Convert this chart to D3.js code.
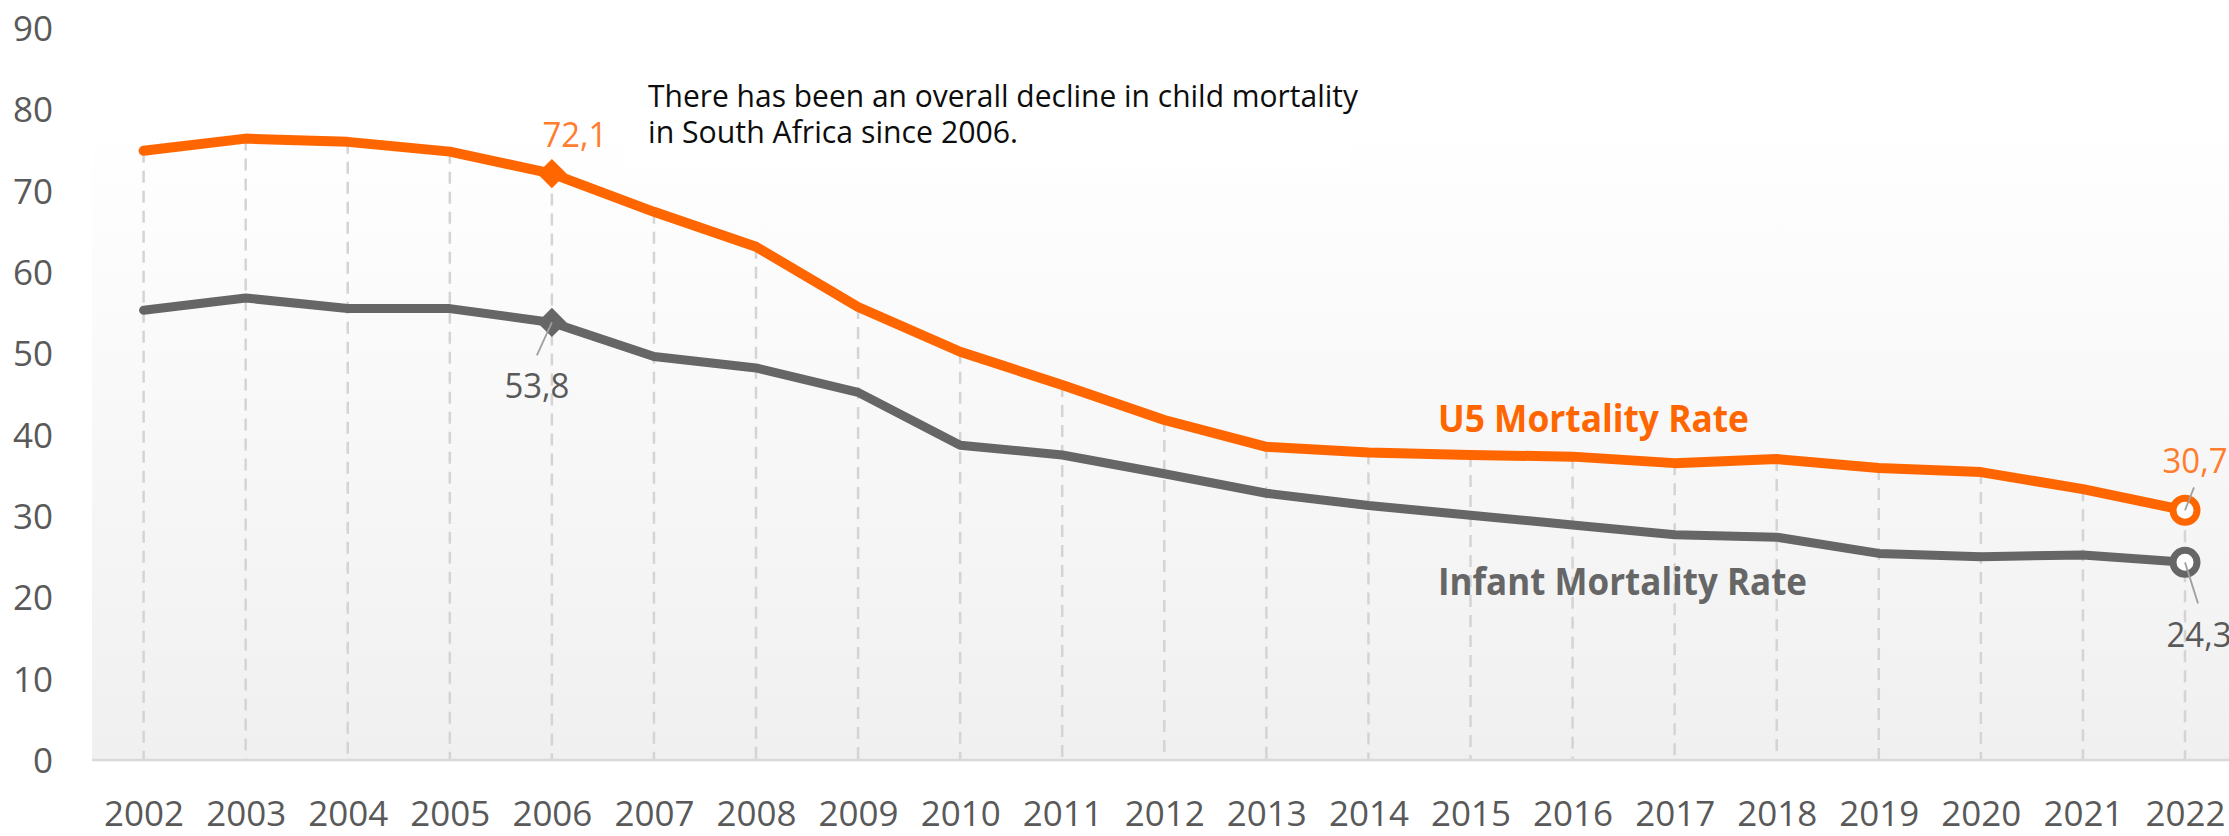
<!DOCTYPE html>
<html>
<head>
<meta charset="utf-8">
<script src="https://cdn.jsdelivr.net/npm/d3@7"></script>
<style>
  html, body { margin: 0; padding: 0; background: #ffffff; }
  svg { display: block; }
  text { font-family: "Open Sans", "Noto Sans", sans-serif; }
</style>
</head>
<body>
<svg id="chart" width="2229" height="836"></svg>
<script>
// ---- data ----
const years = ["2002","2003","2004","2005","2006","2007","2008","2009","2010","2011","2012",
               "2013","2014","2015","2016","2017","2018","2019","2020","2021","2022"];
const u5Rate = [74.9, 76.4, 76.0, 74.8, 72.1, 67.4, 63.1, 55.7, 50.2, 46.1, 41.8,
                38.5, 37.8, 37.5, 37.3, 36.5, 37.0, 35.9, 35.4, 33.3, 30.7];
const infantRate = [55.3, 56.8, 55.5, 55.5, 53.8, 49.6, 48.2, 45.2, 38.7, 37.5, 35.2,
                    32.8, 31.3, 30.1, 28.9, 27.7, 27.4, 25.4, 25.0, 25.2, 24.3];
const yTicks = [0, 10, 20, 30, 40, 50, 60, 70, 80, 90];
const seriesNames = ["U5 Mortality Rate", "Infant Mortality Rate"];
const annotationLines = ["There has been an overall decline in child mortality",
                         "in South Africa since 2006."];
const diamondYear = "2006";
const circleYear = "2022";

// ---- setup ----
const svg = d3.select("#chart");
const W = 2229, H = 836;
const x = d3.scalePoint().domain(years).range([143.6, 2185]);
const y = d3.scaleLinear().domain([0, 90]).range([760, 28]);

const ORANGE = "#ff6600", ORANGE_LBL = "#ff7d2d", GRAY = "#666666", TXT = "#595959";
const fmt = v => d3.format(".1f")(v).replace(".", ",");

function fitText(sel, target) {
  sel.each(function() {
    const w = this.getComputedTextLength();
    if (w > 0) d3.select(this).attr("textLength", target).attr("lengthAdjust", "spacingAndGlyphs");
  });
}

// background gradient
const defs = svg.append("defs");
const grad = defs.append("linearGradient").attr("id", "bg").attr("x1", 0).attr("y1", 0).attr("x2", 0).attr("y2", 1);
grad.append("stop").attr("offset", "0%").attr("stop-color", "#ffffff");
grad.append("stop").attr("offset", "100%").attr("stop-color", "#f0f0f0");
svg.append("rect").attr("x", 92).attr("y", 122).attr("width", W - 92).attr("height", 760 - 122)
  .attr("fill", "url(#bg)");

// annotation white box
svg.append("rect").attr("x", 625).attr("y", 60).attr("width", 723).attr("height", 108).attr("fill", "#ffffff");

// drop lines from U5 points to axis
svg.append("g").selectAll("line").data(years).join("line")
  .attr("x1", d => x(d)).attr("x2", d => x(d))
  .attr("y1", (d, i) => y(u5Rate[i])).attr("y2", y(0))
  .attr("stroke", "#d4d4d4").attr("stroke-width", 2.5).attr("stroke-dasharray", "12,8");

// x axis line
svg.append("line").attr("x1", 92).attr("x2", W).attr("y1", y(0)).attr("y2", y(0))
  .attr("stroke", "#d9d9d9").attr("stroke-width", 2.5);

// y axis
const yAxis = svg.append("g").attr("transform", "translate(53,0)")
  .call(d3.axisLeft(y).tickValues(yTicks).tickSize(0).tickPadding(0));
yAxis.select(".domain").remove();
yAxis.selectAll("text").attr("font-size", 35).attr("fill", TXT)
  .attr("font-family", "'Open Sans', sans-serif").attr("dy", "0.36em");

// x axis
const xAxis = svg.append("g").attr("transform", `translate(0,${y(0)})`)
  .call(d3.axisBottom(x).tickSize(0).tickPadding(41));
xAxis.select(".domain").remove();
xAxis.selectAll("text").attr("font-size", 35).attr("fill", TXT)
  .attr("font-family", "'Open Sans', sans-serif");
xAxis.selectAll("text").call(fitText, 80);

// lines
const line = d3.line().x((d, i) => x(years[i])).y(d => y(d));
svg.append("path").datum(infantRate).attr("d", line).attr("fill", "none")
  .attr("stroke", GRAY).attr("stroke-width", 9).attr("stroke-linejoin", "round").attr("stroke-linecap", "round");
svg.append("path").datum(u5Rate).attr("d", line).attr("fill", "none")
  .attr("stroke", ORANGE).attr("stroke-width", 10).attr("stroke-linejoin", "round").attr("stroke-linecap", "round");

// markers
const di = years.indexOf(diamondYear), ci = years.indexOf(circleYear);
const diamond = d3.symbol().type(d3.symbolSquare).size(430);
[[u5Rate, ORANGE], [infantRate, GRAY]].forEach(([s, c]) => {
  svg.append("path").attr("d", diamond())
    .attr("transform", `translate(${x(diamondYear)},${y(s[di])}) rotate(45)`)
    .attr("fill", c);
  svg.append("circle").attr("cx", x(circleYear)).attr("cy", y(s[ci])).attr("r", 12)
    .attr("fill", "#ffffff").attr("stroke", c).attr("stroke-width", 7);
});

// leader lines
function leader(px, py, qx, qy) {
  svg.append("line").attr("x1", px).attr("y1", py).attr("x2", qx).attr("y2", qy)
    .attr("stroke", "#a0a0a0").attr("stroke-width", 1.8);
}
leader(x(diamondYear), y(infantRate[di]), x(diamondYear) - 15, y(infantRate[di]) + 33);
leader(x(circleYear), y(u5Rate[ci]), x(circleYear) + 9, y(u5Rate[ci]) - 23);
leader(x(circleYear), y(infantRate[ci]), x(circleYear) + 13, y(infantRate[ci]) + 41);

// data labels
function dataLabel(txt, cx, by, color) {
  svg.append("text").attr("x", cx).attr("y", by).attr("text-anchor", "middle")
    .attr("font-size", 35).attr("fill", color).text(txt).call(fitText, 65);
}
dataLabel(fmt(u5Rate[di]), x(diamondYear) + 23, y(u5Rate[di]) - 27, ORANGE_LBL);
dataLabel(fmt(infantRate[di]), x(diamondYear) - 15, y(infantRate[di]) + 76, TXT);
dataLabel(fmt(u5Rate[ci]), x(circleYear) + 10, y(u5Rate[ci]) - 37, ORANGE_LBL);
dataLabel(fmt(infantRate[ci]), x(circleYear) + 14, y(infantRate[ci]) + 85, TXT);

// series labels
svg.append("text").attr("x", 1438).attr("y", 432).attr("font-size", 37).attr("font-weight", 700)
  .attr("fill", ORANGE).text(seriesNames[0]).call(fitText, 311);
svg.append("text").attr("x", 1438).attr("y", 595).attr("font-size", 37).attr("font-weight", 700)
  .attr("fill", GRAY).text(seriesNames[1]).call(fitText, 369);

// annotation
svg.append("text").attr("x", 648).attr("y", 107).attr("font-size", 31).attr("fill", "#0d0d0d")
  .text(annotationLines[0]).call(fitText, 710);
svg.append("text").attr("x", 648).attr("y", 143).attr("font-size", 31).attr("fill", "#0d0d0d")
  .text(annotationLines[1]).call(fitText, 370);
</script>
</body>
</html>
